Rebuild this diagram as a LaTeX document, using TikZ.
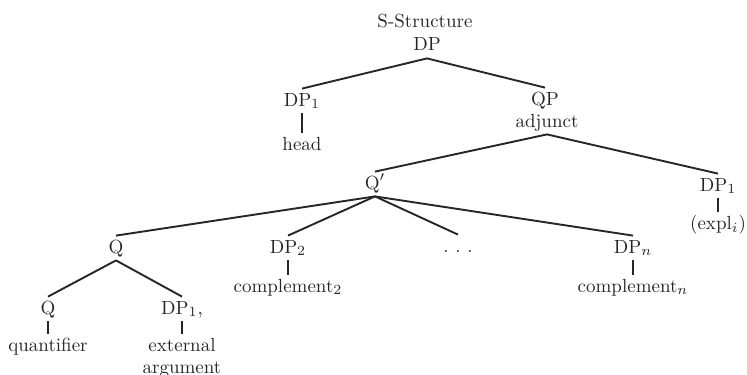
\documentclass[tikz,border=0pt]{standalone}
\begin{document}
\begin{tikzpicture}[x=0.5pt,y=-0.5pt,
  lbl/.style={anchor=base, inner xsep=1pt, inner ysep=1.5pt,
    text height=7pt, text depth=2pt, text=black!85,
    font=\fontsize{9.5}{11}\selectfont},
  edge/.style={line width=0.95pt, draw=black!85}]
\useasboundingbox (0,0) rectangle (747,374);

% labels of the tree
\node[lbl] (title) at (425,28)  {S-Structure};
\node[lbl] (dp)    at (427,51)  {DP};
\node[lbl] (dpa)   at (302,106) {DP$_1$};
\node[lbl] (head)  at (302,150) {head};
\node[lbl] (qp)    at (545,105) {QP};
\node[lbl] (adj)   at (547,127) {adjunct};
\node[lbl] (qbar)  at (375,189) {Q$'$};
\node[lbl] (dpb)   at (718,191) {DP$_1$};
\node[lbl] (expl)  at (718,229) {(expl$_i$)};
\node[lbl] (q)     at (116,253) {Q};
\node[lbl] (dp2)   at (288,253) {DP$_2$};
\node[lbl] (dots)  at (458,252) {.\hspace{0.35em}.\hspace{0.35em}.};
\node[lbl] (dpn)   at (633,253) {DP$_n$};
\node[lbl] (c2)    at (288,292) {complement$_2$};
\node[lbl] (cn)    at (633,292) {complement$_n$};
\node[lbl] (ql)    at (48,314)  {Q};
\node[lbl] (dpc)   at (182,314) {DP$_1$,};
\node[lbl] (quant) at (48,351)  {quantifier};
\node[lbl] (ext)   at (182,351) {external};
\node[lbl] (arg)   at (182,373) {argument};

% branches
\draw[edge] (dp.south) -- (dpa.north);
\draw[edge] (dp.south) -- (qp.north);
\draw[edge] (dpa.south) -- (head.north);
\draw[edge] (adj.south) -- (qbar.north);
\draw[edge] (adj.south) -- (dpb.north);
\draw[edge] (dpb.south) -- (expl.north);
\draw[edge] (qbar.south) -- (q.north);
\draw[edge] (qbar.south) -- (dp2.north);
\draw[edge] (qbar.south) -- (dots.north);
\draw[edge] (qbar.south) -- (dpn.north);
\draw[edge] (dp2.south) -- (c2.north);
\draw[edge] (dpn.south) -- (cn.north);
\draw[edge] (q.south) -- (ql.north);
\draw[edge] (q.south) -- (dpc.north);
\draw[edge] (ql.south) -- (quant.north);
\draw[edge] (dpc.south) -- (ext.north);
\end{tikzpicture}
\end{document}
